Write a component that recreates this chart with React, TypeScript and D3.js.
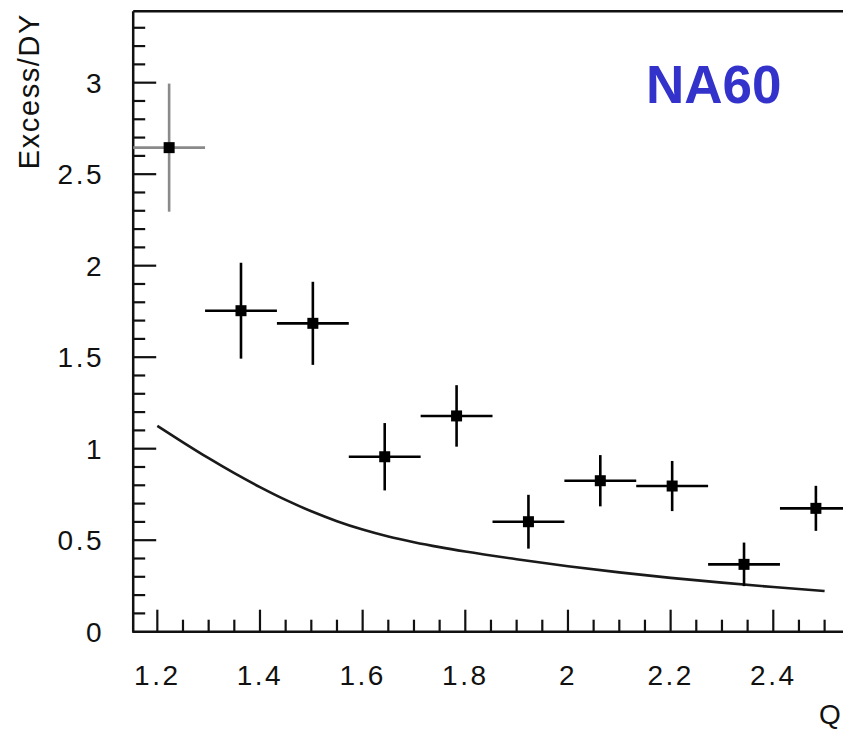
import React from "react";
import * as d3 from "d3";

// Data points: bin centers, values, symmetric errors
const binCenters = [1.223, 1.363, 1.503, 1.643, 1.783, 1.923, 2.063, 2.203, 2.343, 2.483];
const binHalfWidth = 0.07;
const excessValues = [2.645, 1.754, 1.685, 0.956, 1.179, 0.601, 0.825, 0.796, 0.368, 0.674];
const excessErrors = [0.35, 0.262, 0.227, 0.184, 0.168, 0.147, 0.14, 0.137, 0.119, 0.123];

// Curve (theory)
const curveX = [1.2, 1.25, 1.3, 1.35, 1.4, 1.45, 1.5, 1.55, 1.6, 1.65, 1.7, 1.75, 1.8, 1.9, 2.0, 2.1, 2.2, 2.3, 2.4, 2.5];
const curveY = [1.125, 1.035, 0.948, 0.866, 0.79, 0.72, 0.658, 0.604, 0.558, 0.52, 0.489, 0.462, 0.438, 0.396, 0.358, 0.324, 0.294, 0.268, 0.244, 0.222];

const xMajorTicks = [1.2, 1.4, 1.6, 1.8, 2.0, 2.2, 2.4];
const xTickLabels = ["1.2", "1.4", "1.6", "1.8", "2", "2.2", "2.4"];
const yMajorTicks = [0, 0.5, 1, 1.5, 2, 2.5, 3];
const yTickLabels = ["0", "0.5", "1", "1.5", "2", "2.5", "3"];

const W = 843;
const H = 731;

export default function App() {
  const x = d3.scaleLinear().domain([1.153, 2.6]).range([133.2, 133.2 + 1.447 * 513.3]);
  const y = d3.scaleLinear().domain([0, 3.39]).range([631.7, 11.3]);

  const xMinor = d3.range(0, 30).map((i) => 1.2 + i * 0.05).filter((v) => v < 2.6);
  const yMinor = d3.range(0, 34).map((i) => i * 0.1).filter((v) => v > 0.01 && v < 3.39);

  const line = d3
    .line<number>()
    .x((_, i) => x(curveX[i]))
    .y((d) => y(d))
    .curve(d3.curveMonotoneX);

  const font = "'Liberation Sans', Arial, Helvetica, sans-serif";
  const axisColor = "#111";

  return (
    <svg
      width={W}
      height={H}
      style={{ position: "absolute", left: 0, top: 0, background: "#fff" }}
      fontFamily={font}
    >
      <rect x={0} y={0} width={W} height={H} fill="#fff" />
      {/* frame */}
      <line x1={x(1.153)} x2={W + 5} y1={y(3.39)} y2={y(3.39)} stroke={axisColor} strokeWidth={2.5} />
      <line x1={x(1.153)} x2={x(1.153)} y1={y(3.39)} y2={y(0)} stroke={axisColor} strokeWidth={2.5} />
      <line x1={x(1.153) - 1} x2={W + 5} y1={y(0)} y2={y(0)} stroke={axisColor} strokeWidth={2.5} />

      {/* x ticks */}
      {xMinor.map((v, i) => {
        const major = xMajorTicks.some((m) => Math.abs(m - v) < 1e-6);
        return (
          <line
            key={"xt" + i}
            x1={x(v)}
            x2={x(v)}
            y1={y(0)}
            y2={y(0) - (major ? 22 : 12)}
            stroke={axisColor}
            strokeWidth={2.2}
          />
        );
      })}
      {/* y ticks */}
      {yMinor.map((v, i) => {
        const major = yMajorTicks.some((m) => Math.abs(m - v) < 1e-6);
        return (
          <line
            key={"yt" + i}
            x1={x(1.153)}
            x2={x(1.153) + (major ? 23 : 12)}
            y1={y(v)}
            y2={y(v)}
            stroke={axisColor}
            strokeWidth={2.2}
          />
        );
      })}

      {/* x tick labels */}
      {xMajorTicks.map((v, i) => (
        <text
          key={"xl" + i}
          x={x(v)}
          y={685}
          textAnchor="middle"
          fontSize={28}
          letterSpacing={2.5}
          fill="#111"
        >
          {xTickLabels[i]}
        </text>
      ))}
      {/* y tick labels */}
      {yMajorTicks.map((v, i) => (
        <text
          key={"yl" + i}
          x={104}
          y={y(v) + 10}
          textAnchor="end"
          fontSize={28}
          letterSpacing={2.5}
          fill="#111"
        >
          {yTickLabels[i]}
        </text>
      ))}

      {/* axis titles */}
      <text
        transform={`translate(39,13) rotate(-90)`}
        textAnchor="end"
        fontSize={29}
        letterSpacing={1.6}
        fill="#111"
      >
        Excess/DY
      </text>
      <text x={819} y={724} fontSize={28} fill="#111">
        Q
      </text>

      {/* curve */}
      <path d={line(curveY) || ""} fill="none" stroke="#1a1a1a" strokeWidth={2.6} />

      {/* data points */}
      {binCenters.map((c, i) => {
        const col = i === 0 ? "#8a8a8a" : "#000";
        return (
          <g key={"p" + i}>
            <line
              x1={x(c - binHalfWidth)}
              x2={x(c + binHalfWidth)}
              y1={y(excessValues[i])}
              y2={y(excessValues[i])}
              stroke={col}
              strokeWidth={2.6}
            />
            <line
              x1={x(c)}
              x2={x(c)}
              y1={y(excessValues[i] + excessErrors[i])}
              y2={y(excessValues[i] - excessErrors[i])}
              stroke={col}
              strokeWidth={2.6}
            />
            <rect
              x={x(c) - 5.5}
              y={y(excessValues[i]) - 5.5}
              width={11}
              height={11}
              fill="#000"
            />
          </g>
        );
      })}

      {/* NA60 label */}
      <text x={646} y={103} fontSize={53} fontWeight="bold" fill="#3333cc">
        NA60
      </text>
    </svg>
  );
}
